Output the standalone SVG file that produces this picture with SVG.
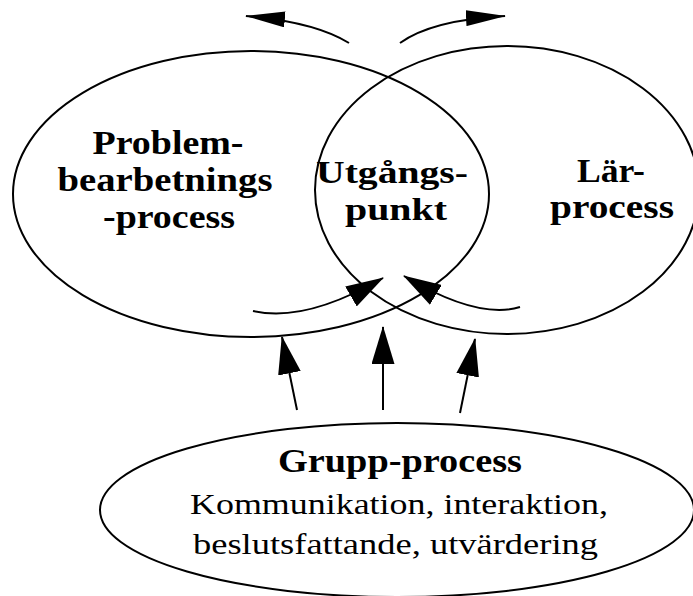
<svg xmlns="http://www.w3.org/2000/svg" width="693" height="596" viewBox="0 0 693 596">
  <style>
    .shape { fill: none; stroke: #000; stroke-width: 2; }
    .conn { fill: none; stroke: #000; stroke-width: 2; }
    .b { font-family: "Liberation Serif", serif; font-weight: bold; font-size: 34px; text-anchor: middle; fill: #000; }
    .m { font-family: "Liberation Serif", serif; font-weight: bold; font-size: 32px; text-anchor: middle; fill: #000; }
    .r { font-family: "Liberation Serif", serif; font-size: 30px; text-anchor: middle; fill: #000; }
  </style>
  <defs>
    <marker id="ahBig" viewBox="0 0 38 23" refX="37" refY="11.5" markerWidth="38" markerHeight="23" markerUnits="userSpaceOnUse" orient="auto">
      <path d="M0,0 L38,11.5 L0,23 Z" fill="#000"/>
    </marker>
    <marker id="ahSlim" viewBox="0 0 40 16" refX="39" refY="8" markerWidth="40" markerHeight="16" markerUnits="userSpaceOnUse" orient="auto">
      <path d="M0,0 L40,8 L0,16 Z" fill="#000"/>
    </marker>
  </defs>

  <g id="node-problembearbetningsprocess">
    <ellipse class="shape" cx="251" cy="194" rx="238" ry="143"/>
    <text class="b" x="168" y="154" textLength="151" lengthAdjust="spacingAndGlyphs">Problem-</text>
    <text class="b" x="165" y="191" textLength="215" lengthAdjust="spacingAndGlyphs">bearbetnings</text>
    <text class="b" x="169" y="228" textLength="132" lengthAdjust="spacingAndGlyphs">-process</text>
  </g>

  <g id="node-larprocess">
    <ellipse class="shape" cx="507" cy="190" rx="192" ry="144"/>
    <text class="b" x="611" y="182" textLength="68" lengthAdjust="spacingAndGlyphs">Lär-</text>
    <text class="b" x="612" y="218" textLength="124" lengthAdjust="spacingAndGlyphs">process</text>
  </g>

  <g id="node-utgangspunkt">
    <text class="m" x="392" y="183" textLength="152" lengthAdjust="spacingAndGlyphs">Utgångs-</text>
    <text class="m" x="396" y="220" textLength="102" lengthAdjust="spacingAndGlyphs">punkt</text>
  </g>

  <g id="node-gruppprocess">
    <ellipse class="shape" cx="397" cy="510" rx="297" ry="87"/>
    <text class="b" x="400" y="472" textLength="244" lengthAdjust="spacingAndGlyphs">Grupp-process</text>
    <text class="r" x="399" y="514" textLength="418" lengthAdjust="spacingAndGlyphs">Kommunikation, interaktion,</text>
    <text class="r" x="395.5" y="554" textLength="405" lengthAdjust="spacingAndGlyphs">beslutsfattande, utvärdering</text>
  </g>

  <g id="connectors">
    <path class="conn" d="M349,43 Q315,22 246,16" marker-end="url(#ahSlim)"/>
    <path class="conn" d="M400,43 Q432,20 505,16" marker-end="url(#ahSlim)"/>
    <path class="conn" d="M253,311 Q305,323 383,278" marker-end="url(#ahBig)"/>
    <path class="conn" d="M520,307 Q478,320 404,276" marker-end="url(#ahBig)"/>
    <path class="conn" d="M297,410 L282,337" marker-end="url(#ahBig)"/>
    <path class="conn" d="M383,410 L383,327" marker-end="url(#ahBig)"/>
    <path class="conn" d="M460,413 L475,339" marker-end="url(#ahBig)"/>
  </g>
</svg>
